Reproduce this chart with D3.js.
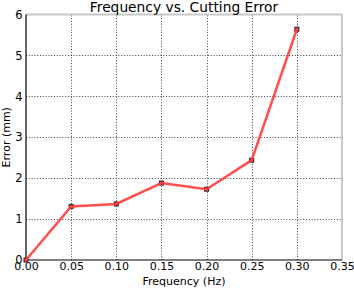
<!DOCTYPE html>
<html><head><meta charset="utf-8">
<script src="https://cdn.jsdelivr.net/npm/d3@7"></script>
<style>body{margin:0;background:#fff}svg{display:block}text{font-family:"DejaVu Sans",sans-serif;fill:#000}</style>
</head><body>
<script>
const frequency = [0.00, 0.05, 0.10, 0.15, 0.20, 0.25, 0.30];
const errorMm = [0.00, 1.31, 1.37, 1.88, 1.73, 2.44, 5.64];
const xTicks = [0.00, 0.05, 0.10, 0.15, 0.20, 0.25, 0.30, 0.35];
const yTicks = [0, 1, 2, 3, 4, 5, 6];

const W = 354, H = 288;
const m = {l: 26, r: 12, t: 14.5, b: 28};
const svg = d3.select("body").append("svg").attr("width", W).attr("height", H);
const x = d3.scaleLinear().domain([0, 0.35]).range([m.l, W - m.r]);
const y = d3.scaleLinear().domain([0, 6]).range([H - m.b, m.t]);

// grid
const g = svg.append("g");
g.selectAll(".gx").data(xTicks.slice(1, -1)).join("line")
  .attr("x1", d => Math.round(x(d)) + 0.5).attr("x2", d => Math.round(x(d)) + 0.5)
  .attr("y1", y(0)).attr("y2", y(6))
  .attr("stroke", "#000").attr("stroke-opacity", 0.75).attr("stroke-width", 1).attr("stroke-dasharray", "1,1.8");
g.selectAll(".gy").data(yTicks.slice(1, -1)).join("line")
  .attr("y1", d => Math.round(y(d)) + 0.5).attr("y2", d => Math.round(y(d)) + 0.5)
  .attr("x1", x(0)).attr("x2", x(0.35))
  .attr("stroke", "#000").attr("stroke-opacity", 0.75).attr("stroke-width", 1).attr("stroke-dasharray", "1,1.8");

// spines
svg.append("line").attr("x1", x(0)).attr("x2", x(0.35)).attr("y1", y(6)).attr("y2", y(6)).attr("stroke", "#c8c8c8").attr("stroke-width", 2);
svg.append("line").attr("x1", x(0.35)).attr("x2", x(0.35)).attr("y1", y(0)).attr("y2", y(6)).attr("stroke", "#c8c8c8").attr("stroke-width", 2);
svg.append("line").attr("x1", x(0)).attr("x2", x(0.35)).attr("y1", y(0)).attr("y2", y(0)).attr("stroke", "#000").attr("stroke-width", 1.2);
svg.append("line").attr("x1", x(0)).attr("x2", x(0)).attr("y1", y(0)).attr("y2", y(6)).attr("stroke", "#000").attr("stroke-width", 1.2);

// axes labels via d3 axes
const xAxis = svg.append("g").attr("transform", `translate(0,${y(0)})`)
  .call(d3.axisBottom(x).tickValues(xTicks).tickFormat(d3.format(".2f")).tickSize(0).tickPadding(2.5));
const yAxis = svg.append("g").attr("transform", `translate(${x(0)},0)`)
  .call(d3.axisLeft(y).tickValues(yTicks).tickFormat(d3.format("d")).tickSize(0).tickPadding(3.5));
[xAxis, yAxis].forEach(a => { a.select(".domain").remove(); a.selectAll("text").attr("font-size", 11).attr("font-family", "DejaVu Sans"); });
yAxis.selectAll("text").attr("font-size", 11.5);

// data
const pts = frequency.map((f, i) => [f, errorMm[i]]);
svg.selectAll(".mk").data(pts).join("rect")
  .attr("x", d => x(d[0]) - 2).attr("y", d => y(d[1]) - 2).attr("width", 4).attr("height", 4)
  .attr("fill", "#ff4444").attr("stroke", "#222").attr("stroke-width", 1);
svg.append("path").datum(pts)
  .attr("d", d3.line().x(d => x(d[0])).y(d => y(d[1])))
  .attr("fill", "none").attr("stroke", "#ff3b3b").attr("stroke-opacity", 0.9).attr("stroke-width", 2.5);

svg.append("text").attr("x", (x(0) + x(0.35)) / 2).attr("y", 12).attr("text-anchor", "middle").attr("font-size", 13.8).text("Frequency vs. Cutting Error");
svg.append("text").attr("x", (x(0) + x(0.35)) / 2).attr("y", 285).attr("text-anchor", "middle").attr("font-size", 11).text("Frequency (Hz)");
svg.append("text").attr("transform", `translate(10,${(y(0) + y(6)) / 2}) rotate(-90)`).attr("text-anchor", "middle").attr("font-size", 11).text("Error (mm)");
</script>
</body></html>
